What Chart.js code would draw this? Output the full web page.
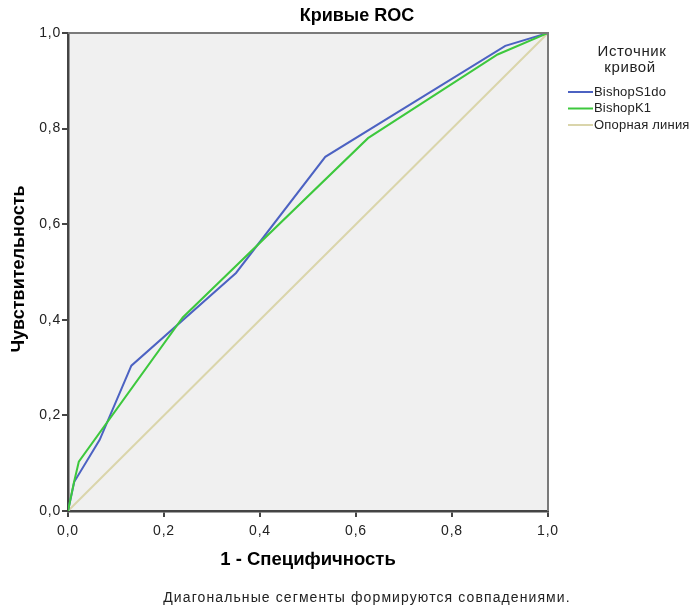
<!DOCTYPE html>
<html>
<head>
<meta charset="utf-8">
<script src="https://cdn.jsdelivr.net/npm/chart.js@4.4.1/dist/chart.umd.min.js"></script>
<style>
  html, body { margin: 0; padding: 0; background: #ffffff; }
  #wrap { width: 694px; height: 610px; }
</style>
</head>
<body>
<div id="wrap"><canvas id="roc" width="694" height="610"></canvas></div>
<script>
// ROC curves: 1 - specificity (x) against sensitivity (y)
const fprS1do = [0, 0.013, 0.066, 0.132, 0.350, 0.536, 0.911, 1];
const tprS1do = [0, 0.061, 0.149, 0.304, 0.498, 0.741, 0.973, 1];
const fprK1 = [0, 0.012, 0.0225, 0.239, 0.625, 0.895, 1];
const tprK1 = [0, 0.058, 0.103, 0.405, 0.780, 0.955, 1];
const fprRef = [0, 1];
const tprRef = [0, 1];

const seriesNames = ['BishopS1do', 'BishopK1', 'Опорная линия'];
const xTickLabels = ['0,0', '0,2', '0,4', '0,6', '0,8', '1,0'];
const yTickLabels = ['0,0', '0,2', '0,4', '0,6', '0,8', '1,0'];

const chartTitle = 'Кривые ROC';
const xTitle = '1 - Специфичность';
const yTitle = 'Чувствительность';
const legendTitle = ['Источник', 'кривой'];
const footnote = 'Диагональные сегменты формируются совпадениями.';

const FONT = '"Liberation Sans", Arial, sans-serif';
const colors = ['#4c62c2', '#3dc83d', '#dad5ab'];

const toPoints = (xs, ys) => xs.map((x, i) => ({ x: x, y: ys[i] }));

const spacing = (chart, v) => { if ('letterSpacing' in chart.ctx) chart.ctx.letterSpacing = v; };

const decor = {
  id: 'decor',
  beforeLayout(chart) { spacing(chart, '0.8px'); },
  beforeDraw(chart) {
    const { ctx, chartArea: a } = chart;
    spacing(chart, '0.8px');
    ctx.save();
    ctx.fillStyle = '#ffffff';
    ctx.fillRect(0, 0, chart.width, chart.height);
    ctx.fillStyle = '#f0f0f0';
    ctx.fillRect(a.left, a.top, a.right - a.left, a.bottom - a.top);
    ctx.restore();
  },
  afterDraw(chart) {
    const { ctx, chartArea: a } = chart;
    ctx.save();
    // upper and right frame of the plot area
    ctx.strokeStyle = '#7a7a7a';
    ctx.lineWidth = 2;
    ctx.beginPath();
    ctx.moveTo(a.left, a.top);
    ctx.lineTo(a.right, a.top);
    ctx.lineTo(a.right, a.bottom);
    ctx.stroke();

    ctx.fillStyle = '#000000';
    ctx.textAlign = 'center';
    ctx.textBaseline = 'middle';
    spacing(chart, '0px');
    ctx.font = 'bold 18px ' + FONT;
    ctx.fillText(chartTitle, 357, 16);

    ctx.font = 'bold 18.5px ' + FONT;
    ctx.fillText(xTitle, 308, 560);

    ctx.save();
    ctx.translate(19, 269);
    ctx.rotate(-Math.PI / 2);
    ctx.font = 'bold 18px ' + FONT;
    ctx.fillText(yTitle, 0, 0);
    ctx.restore();

    spacing(chart, '1.1px');
    ctx.font = '14px ' + FONT;
    ctx.fillStyle = '#222222';
    ctx.fillText(footnote, 367, 598);

    // legend
    spacing(chart, '0.6px');
    ctx.font = '15px ' + FONT;
    ctx.fillText(legendTitle[0], 632, 52);
    ctx.fillText(legendTitle[1], 630, 68);
    spacing(chart, '0.2px');
    ctx.font = '13px ' + FONT;
    ctx.textAlign = 'left';
    chart.data.datasets.forEach((ds, i) => {
      const y = 92 + i * 16.5;
      ctx.strokeStyle = ds.borderColor;
      ctx.lineWidth = 2;
      ctx.beginPath();
      ctx.moveTo(568, y);
      ctx.lineTo(593, y);
      ctx.stroke();
      ctx.fillStyle = '#222222';
      ctx.fillText(ds.label, 594, y);
    });
    ctx.restore();
    spacing(chart, '0.8px');
  }
};

const zeroPadding = (scale) => {
  scale.paddingTop = 0;
  scale.paddingBottom = 0;
  scale.paddingLeft = 0;
  scale.paddingRight = 0;
};

new Chart(document.getElementById('roc'), {
  type: 'scatter',
  data: {
    datasets: [
      { label: seriesNames[0], data: toPoints(fprS1do, tprS1do), borderColor: colors[0], order: 2 },
      { label: seriesNames[1], data: toPoints(fprK1, tprK1), borderColor: colors[1], order: 1 },
      { label: seriesNames[2], data: toPoints(fprRef, tprRef), borderColor: colors[2], order: 3 }
    ].map(ds => Object.assign(ds, {
      showLine: true, pointRadius: 0, borderWidth: 2, tension: 0, fill: false
    }))
  },
  options: {
    responsive: false,
    animation: false,
    events: [],
    layout: { padding: { left: 0, top: 33, right: 146, bottom: 69 } },
    plugins: { legend: { display: false }, tooltip: { enabled: false }, title: { display: false } },
    scales: {
      x: {
        type: 'linear', min: 0, max: 1,
        afterFit(scale) { scale.height = 30; zeroPadding(scale); },
        ticks: {
          stepSize: 0.2, padding: 6, maxRotation: 0,
          color: '#222222', font: { family: FONT, size: 14 },
          callback: (v) => xTickLabels[Math.round(v / 0.2)]
        },
        grid: { drawOnChartArea: false, drawTicks: true, tickLength: 6, tickColor: '#444444', lineWidth: 2 },
        border: { display: true, color: '#444444', width: 2.5 }
      },
      y: {
        type: 'linear', min: 0, max: 1,
        afterFit(scale) { scale.width = 68; zeroPadding(scale); },
        ticks: {
          stepSize: 0.2, padding: 1,
          color: '#222222', font: { family: FONT, size: 14 },
          callback: (v) => yTickLabels[Math.round(v / 0.2)]
        },
        grid: { drawOnChartArea: false, drawTicks: true, tickLength: 6, tickColor: '#444444', lineWidth: 2 },
        border: { display: true, color: '#444444', width: 2.5 }
      }
    }
  },
  plugins: [decor]
});
</script>
</body>
</html>
